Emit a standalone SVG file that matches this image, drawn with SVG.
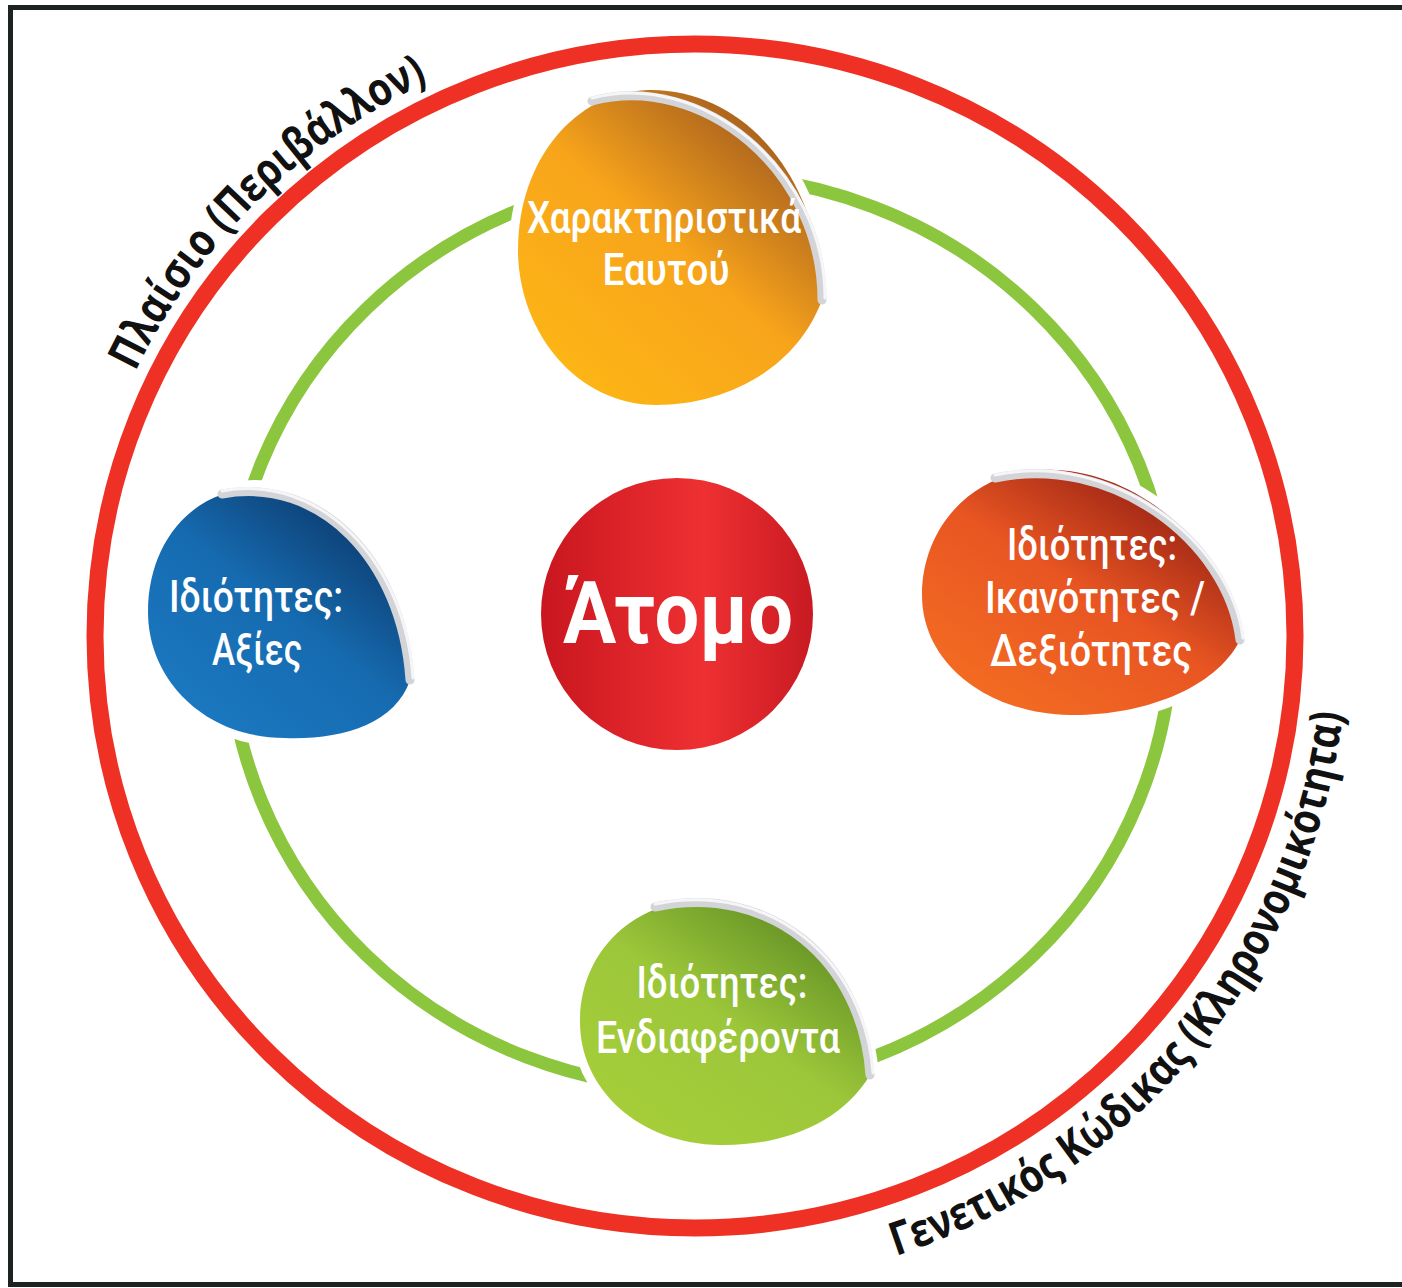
<svg xmlns="http://www.w3.org/2000/svg" width="1402" height="1288" viewBox="0 0 1402 1288">
<style>
.ring-red{fill:none;stroke:#ee3124;stroke-width:17}
.ring-green{fill:none;stroke:#8cc63f;stroke-width:13}
.halo{fill:#fff;stroke:#fff;stroke-width:18;stroke-linejoin:round}
.rim{fill:none;stroke:#d3d4d8;stroke-width:9;stroke-linecap:round}
.rimhi{fill:none;stroke:#f6f6f8;stroke-width:3;stroke-linecap:round}
.bt{font-family:Roboto,"Liberation Sans",sans-serif;font-weight:500;font-size:45px;fill:#fff;text-anchor:middle}
.arc{font-family:"Open Sans","Noto Sans","Liberation Sans",sans-serif;font-weight:700;font-size:46px;fill:#111}
</style>
<defs>
<linearGradient id="gO" x1="0.2" y1="0.95" x2="0.9" y2="0.1">
<stop offset="0" stop-color="#fdb515"/><stop offset="0.5" stop-color="#f7a41b"/><stop offset="1" stop-color="#9c561e"/>
</linearGradient>
<linearGradient id="gB" x1="0.2" y1="0.95" x2="0.9" y2="0.1">
<stop offset="0" stop-color="#1b78c0"/><stop offset="0.5" stop-color="#166bb0"/><stop offset="1" stop-color="#0b3566"/>
</linearGradient>
<linearGradient id="gR" x1="0.2" y1="0.95" x2="0.9" y2="0.1">
<stop offset="0" stop-color="#f36c22"/><stop offset="0.5" stop-color="#e85522"/><stop offset="1" stop-color="#8c1a12"/>
</linearGradient>
<linearGradient id="gG" x1="0.2" y1="0.95" x2="0.9" y2="0.1">
<stop offset="0" stop-color="#a6ce39"/><stop offset="0.5" stop-color="#9cc73a"/><stop offset="1" stop-color="#5c8a22"/>
</linearGradient>
<linearGradient id="gC" x1="0" y1="0" x2="1" y2="0">
<stop offset="0" stop-color="#c9161f"/><stop offset="0.6" stop-color="#ee3032"/><stop offset="1" stop-color="#c81a22"/>
</linearGradient>
<path id="pTop" d="M 135.4 371.7 A 620 614 0 0 1 428.1 81.8"/>
<path id="pBot" d="M 896 1256 A 660 652 0 0 0 1343 712"/>
</defs>
<rect x="0" y="0" width="1402" height="1288" fill="#fff"/>
<rect x="10.5" y="7.5" width="1400" height="1277" fill="none" stroke="#1c2422" stroke-width="5"/>
<g id="connectors">
<ellipse class="ring-red" cx="695" cy="636" rx="600" ry="592"/>
<ellipse class="ring-green" cx="700" cy="632" rx="472" ry="457"/>
</g>
<g id="label-context">
<text class="arc"><textPath href="#pTop" textLength="420" lengthAdjust="spacingAndGlyphs">Πλαίσιο (Περιβάλλον)</textPath></text>
</g>
<g id="label-genetic">
<text class="arc"><textPath href="#pBot" textLength="742" lengthAdjust="spacingAndGlyphs">Γενετικός Κώδικας (Κληρονομικότητα)</textPath></text>
</g>
<g id="node-self">
<path class="halo" d="M 648 90 C 745 88 822 180 822 300 C 795 372 722 405 657 405 C 575 405 518 330 518 250 C 518 160 575 92 648 90 Z"/>
<path fill="url(#gO)" d="M 648 90 C 745 88 822 180 822 300 C 795 372 722 405 657 405 C 575 405 518 330 518 250 C 518 160 575 92 648 90 Z"/>
<path class="rim" d="M 592 101 C 702 72 822 170 822 300"/>
<path class="rimhi" d="M 592 98 C 702 69 825 170 825 298"/>
<text class="bt" x="664" y="233" textLength="274" lengthAdjust="spacingAndGlyphs">Χαρακτηριστικά</text>
<text class="bt" x="666" y="285" textLength="127" lengthAdjust="spacingAndGlyphs">Εαυτού</text>
</g>
<g id="node-values">
<path class="halo" d="M 255 489 C 330 489 400 560 410 680 C 395 725 340 740 285 738 C 205 738 148 680 148 612 C 148 540 195 489 255 489 Z"/>
<path fill="url(#gB)" d="M 255 489 C 330 489 400 560 410 680 C 395 725 340 740 285 738 C 205 738 148 680 148 612 C 148 540 195 489 255 489 Z"/>
<path class="rim" d="M 222 494 C 320 476 402 560 410 680"/>
<path class="rimhi" d="M 222 491 C 320 473 405 560 413 678"/>
<text class="bt" x="256" y="612" textLength="174" lengthAdjust="spacingAndGlyphs">Ιδιότητες:</text>
<text class="bt" x="257" y="665" textLength="90" lengthAdjust="spacingAndGlyphs">Αξίες</text>
</g>
<g id="node-abilities">
<path class="halo" d="M 1040 470 C 1130 465 1225 540 1240 640 C 1215 690 1140 716 1070 715 C 990 714 922 665 922 595 C 922 525 975 472 1040 470 Z"/>
<path fill="url(#gR)" d="M 1040 470 C 1130 465 1225 540 1240 640 C 1215 690 1140 716 1070 715 C 990 714 922 665 922 595 C 922 525 975 472 1040 470 Z"/>
<path class="rim" d="M 995 478 C 1110 453 1228 540 1240 640"/>
<path class="rimhi" d="M 995 475 C 1110 450 1231 540 1243 638"/>
<text class="bt" x="1092" y="560" textLength="170" lengthAdjust="spacingAndGlyphs">Ιδιότητες:</text>
<text class="bt" x="1095" y="613" textLength="220" lengthAdjust="spacingAndGlyphs">Ικανότητες /</text>
<text class="bt" x="1091" y="666" textLength="202" lengthAdjust="spacingAndGlyphs">Δεξιότητες</text>
</g>
<g id="node-interests">
<path class="halo" d="M 700 900 C 780 898 860 960 870 1075 C 840 1125 780 1146 720 1145 C 640 1144 580 1090 580 1022 C 580 950 635 902 700 900 Z"/>
<path fill="url(#gG)" d="M 700 900 C 780 898 860 960 870 1075 C 840 1125 780 1146 720 1145 C 640 1144 580 1090 580 1022 C 580 950 635 902 700 900 Z"/>
<path class="rim" d="M 655 907 C 770 883 862 960 870 1075"/>
<path class="rimhi" d="M 655 904 C 770 880 865 960 873 1073"/>
<text class="bt" x="722" y="998" textLength="171" lengthAdjust="spacingAndGlyphs">Ιδιότητες:</text>
<text class="bt" x="718" y="1053" textLength="244" lengthAdjust="spacingAndGlyphs">Ενδιαφέροντα</text>
</g>
<g id="node-person">
<circle cx="677" cy="614" r="136" fill="url(#gC)"/>
<text x="678" y="643" font-family="Roboto,'Liberation Sans',sans-serif" font-weight="700" font-size="88" fill="#fff" text-anchor="middle" textLength="230" lengthAdjust="spacingAndGlyphs">Άτομο</text>
</g>
</svg>
